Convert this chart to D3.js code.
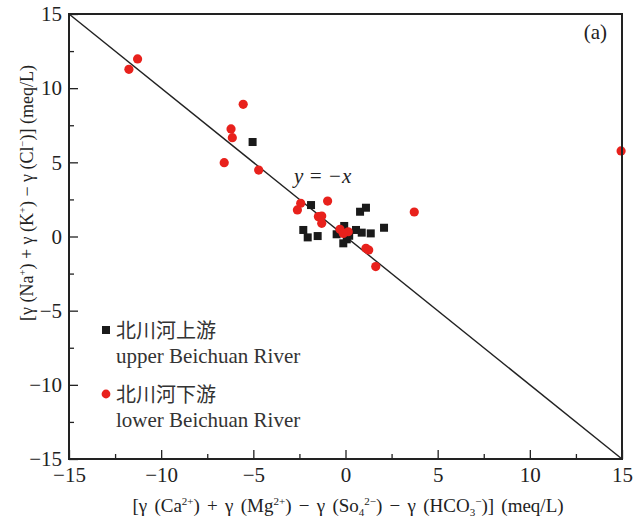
<!DOCTYPE html>
<html><head><meta charset="utf-8">
<script src="https://cdn.jsdelivr.net/npm/d3@7"></script>
<style>body{margin:0;background:#fff}svg{display:block}</style>
</head><body>
<script>
// ---- data ----
const upperX = [-5.04, -1.87, 0.79, 1.11, -2.29, -2.05, -1.51, -0.48, -0.07, 0.07, -0.12, 0.57, 0.88, 1.37, 2.09, -0.30, 0.20];
const upperY = [6.37, 2.12, 1.67, 1.94, 0.44, -0.06, 0.03, 0.15, 0.71, -0.19, -0.46, 0.44, 0.26, 0.21, 0.59, 0.30, 0.05];
const lowerX = [-11.28, -11.75, -5.55, -6.21, -6.14, -6.58, -4.71, -2.43, -2.61, -0.97, -1.47, -1.29, -1.29, -0.30, 0.15, -0.12, 1.11, 1.26, 1.64, 3.73, 14.95];
const lowerY = [11.97, 11.27, 8.91, 7.25, 6.66, 4.98, 4.48, 2.24, 1.79, 2.39, 1.34, 1.38, 0.89, 0.49, 0.32, 0.21, -0.80, -0.91, -2.03, 1.65, 5.77];
const majorTicks = [-15, -10, -5, 0, 5, 10, 15];
const minorTicks = [-12.5, -7.5, -2.5, 2.5, 7.5, 12.5];
const refLine = [[-15, 15], [15, -15]];
const legendLabels = [["北川河上游", "upper Beichuan River"], ["北川河下游", "lower Beichuan River"]];

const W = 633, H = 523;
const m = {l: 69, t: 14, r: 11, b: 64};
const w = W - m.l - m.r, h = H - m.t - m.b;
const serif = "'Liberation Serif','Times New Roman',serif";
const svg = d3.select("body").append("svg").attr("width", W).attr("height", H);
const g = svg.append("g").attr("transform", `translate(${m.l},${m.t})`);
const x = d3.scaleLinear().domain([-15, 15]).range([0, w]);
const y = d3.scaleLinear().domain([-15, 15]).range([h, 0]);
const fmt = d => d < 0 ? "\u2212" + Math.abs(d) : String(d);

// axes
const xa = g.append("g").attr("transform", `translate(0,${h})`)
  .call(d3.axisBottom(x).tickValues(majorTicks).tickSize(-9).tickPadding(8).tickFormat(fmt));
const xm = g.append("g").attr("transform", `translate(0,${h})`)
  .call(d3.axisBottom(x).tickValues(minorTicks).tickSize(-5).tickFormat(""));
const ya = g.append("g")
  .call(d3.axisLeft(y).tickValues(majorTicks).tickSize(-9).tickPadding(7).tickFormat(fmt));
const ym = g.append("g")
  .call(d3.axisLeft(y).tickValues(minorTicks).tickSize(-5).tickFormat(""));
[xa, xm, ya, ym].forEach(a => {
  a.attr("font-family", serif).attr("font-size", 21);
  a.select(".domain").remove();
  a.selectAll(".tick line").attr("stroke", "#222").attr("stroke-width", 1.3);
  a.selectAll("text").attr("font-family", serif).attr("font-size", 21).attr("fill", "#222");
});

// reference line
g.append("path").datum(refLine)
  .attr("d", d3.line().x(d => x(d[0])).y(d => y(d[1])))
  .attr("stroke", "#222").attr("stroke-width", 1.4).attr("fill", "none");

// points
const sq = 8;
g.selectAll("rect.up").data(upperX.map((v, i) => [v, upperY[i]])).join("rect")
  .attr("x", d => x(d[0]) - sq / 2).attr("y", d => y(d[1]) - sq / 2)
  .attr("width", sq).attr("height", sq).attr("fill", "#1a1a1a");
g.selectAll("circle.low").data(lowerX.map((v, i) => [v, lowerY[i]])).join("circle")
  .attr("cx", d => x(d[0])).attr("cy", d => y(d[1])).attr("r", 4.6).attr("fill", "#e8211c");

// frame
g.append("rect").attr("width", w).attr("height", h).attr("fill", "none")
  .attr("stroke", "#222").attr("stroke-width", 2);

// texts
g.append("text").attr("x", x(-2.8)).attr("y", y(3.6))
  .attr("font-family", serif).attr("font-style", "italic").attr("font-size", 21).attr("fill", "#222")
  .text("y = \u2212x");
svg.append("text").attr("x", 607).attr("y", 39).attr("text-anchor", "end")
  .attr("font-family", serif).attr("font-size", 21).attr("fill", "#222").text("(a)");

// legend
const lg = svg.append("g");
legendLabels.forEach((lab, i) => {
  const cy = 330 + i * 64;
  if (i === 0) lg.append("rect").attr("x", 102).attr("y", cy - 4).attr("width", 8).attr("height", 8).attr("fill", "#1a1a1a");
  else lg.append("circle").attr("cx", 106).attr("cy", cy).attr("r", 4.4).attr("fill", "#e8211c");
  lg.append("text").attr("x", 116).attr("y", cy + 8).attr("font-family", "'Noto Sans CJK SC',sans-serif")
    .attr("font-size", 20).attr("fill", "#333").text(lab[0]);
  lg.append("text").attr("x", 116).attr("y", cy + 33).attr("font-family", serif)
    .attr("font-size", 21).attr("fill", "#333").text(lab[1]);
});

// rich text helper
function rich(sel, segs, fs) {
  let prev = 0;
  segs.forEach(s => {
    const off = s[1] === "sup" ? -7 : s[1] === "sub" ? 4 : 0;
    sel.append("tspan").attr("dy", off - prev).attr("font-size", s[1] ? fs * 0.58 : fs)
      .text(s[0]);
    prev = off;
  });
}
const xl = svg.append("text").attr("x", 348).attr("y", 512).attr("text-anchor", "middle")
  .attr("font-family", serif).attr("font-size", 19).attr("word-spacing", 2.5).attr("fill", "#222");
rich(xl, [["[\u03b3 (Ca"], ["2+", "sup"], [") + \u03b3 (Mg"], ["2+", "sup"], [")  \u2212 \u03b3 (So"], ["4", "sub"], ["2\u2212", "sup"],
  [")  \u2212 \u03b3 (HCO"], ["3", "sub"], ["\u2212", "sup"], [")] (meq/L)"]], 19);
const yl = svg.append("text").attr("transform", "translate(33,193) rotate(-90)").attr("text-anchor", "middle")
  .attr("font-family", serif).attr("font-size", 18).attr("fill", "#222");
rich(yl, [["[\u03b3 (Na"], ["+", "sup"], [") + \u03b3 (K"], ["+", "sup"], [") \u2212 \u03b3 (Cl"], ["\u2212", "sup"], [")] (meq/L)"]], 18);
</script>
</body></html>
